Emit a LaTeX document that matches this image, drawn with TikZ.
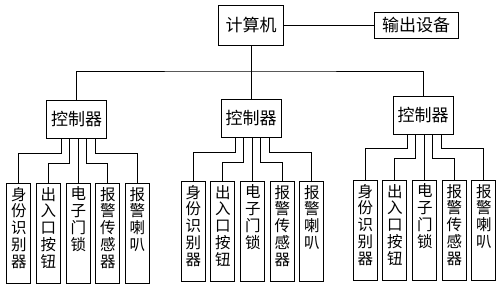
\documentclass[tikz,border=0pt]{standalone}
\usepackage{fontspec}
\newfontfamily\cjk{Noto Sans CJK SC}
\usetikzlibrary{positioning}

\newcommand{\vtxt}[1]{\parbox[c][92pt][t]{15pt}{\centering #1}}

\begin{document}
\begin{tikzpicture}[x=1pt,y=-1pt,
  box/.style={draw,thick,fill=white,font=\cjk\fontsize{17}{19}\selectfont,inner sep=0pt},
  leaf/.style={draw,thick,inner xsep=4.5pt,inner ysep=4pt,font=\cjk\fontsize{15.5}{16.8}\selectfont},
  wire/.style={thick}]
\useasboundingbox (0,0) rectangle (500,289);
\node[box,minimum width=65,minimum height=40] (comp) at (251,25) {计算机};
\node[box,minimum width=84,minimum height=26] (out) at (416,25) {输出设备};
\draw[wire] (comp.east) -- (out.west);
\coordinate (bus) at (251,71);
% controllers
\node[box,minimum width=60,minimum height=38] (ctrl1) at (76.5,119.5) {控制器};
\node[box,minimum width=60,minimum height=38] (ctrl2) at (251,118.5) {控制器};
\node[box,minimum width=60,minimum height=38] (ctrl3) at (423,115) {控制器};
\draw[wire] (comp.south) -- (ctrl2.north);
\draw[wire] (ctrl1.north) |- (bus) -| (ctrl3.north);
% devices under each controller
\foreach \g/\cx/\ly in {1/76.5/233, 2/251/231, 3/423/230}{
  \foreach \i/\dx/\t in {1/-58/{身\\份\\识\\别\\器}, 2/-28.5/{出\\入\\口\\按\\钮},
      3/1.5/{电\\子\\门\\锁}, 4/31/{报\\警\\传\\感\\器}, 5/60.5/{报\\警\\喇\\叭}}{
    \node[leaf] (dev\g\i) at (\cx+\dx,\ly) {\vtxt{\t}};
  }
  \draw[wire] ([xshift=-15.5pt]ctrl\g.south) -- ++(0,14) -| (dev\g1.north);
  \draw[wire] ([xshift=-7.5pt]ctrl\g.south) -- ++(0,24) -| (dev\g2.north);
  \draw[wire] ([xshift=1.5pt]ctrl\g.south) -- (dev\g3.north);
  \draw[wire] ([xshift=9.5pt]ctrl\g.south) -- ++(0,24) -| (dev\g4.north);
  \draw[wire] ([xshift=18.5pt]ctrl\g.south) -- ++(0,14) -| (dev\g5.north);
}
\end{tikzpicture}
\end{document}
